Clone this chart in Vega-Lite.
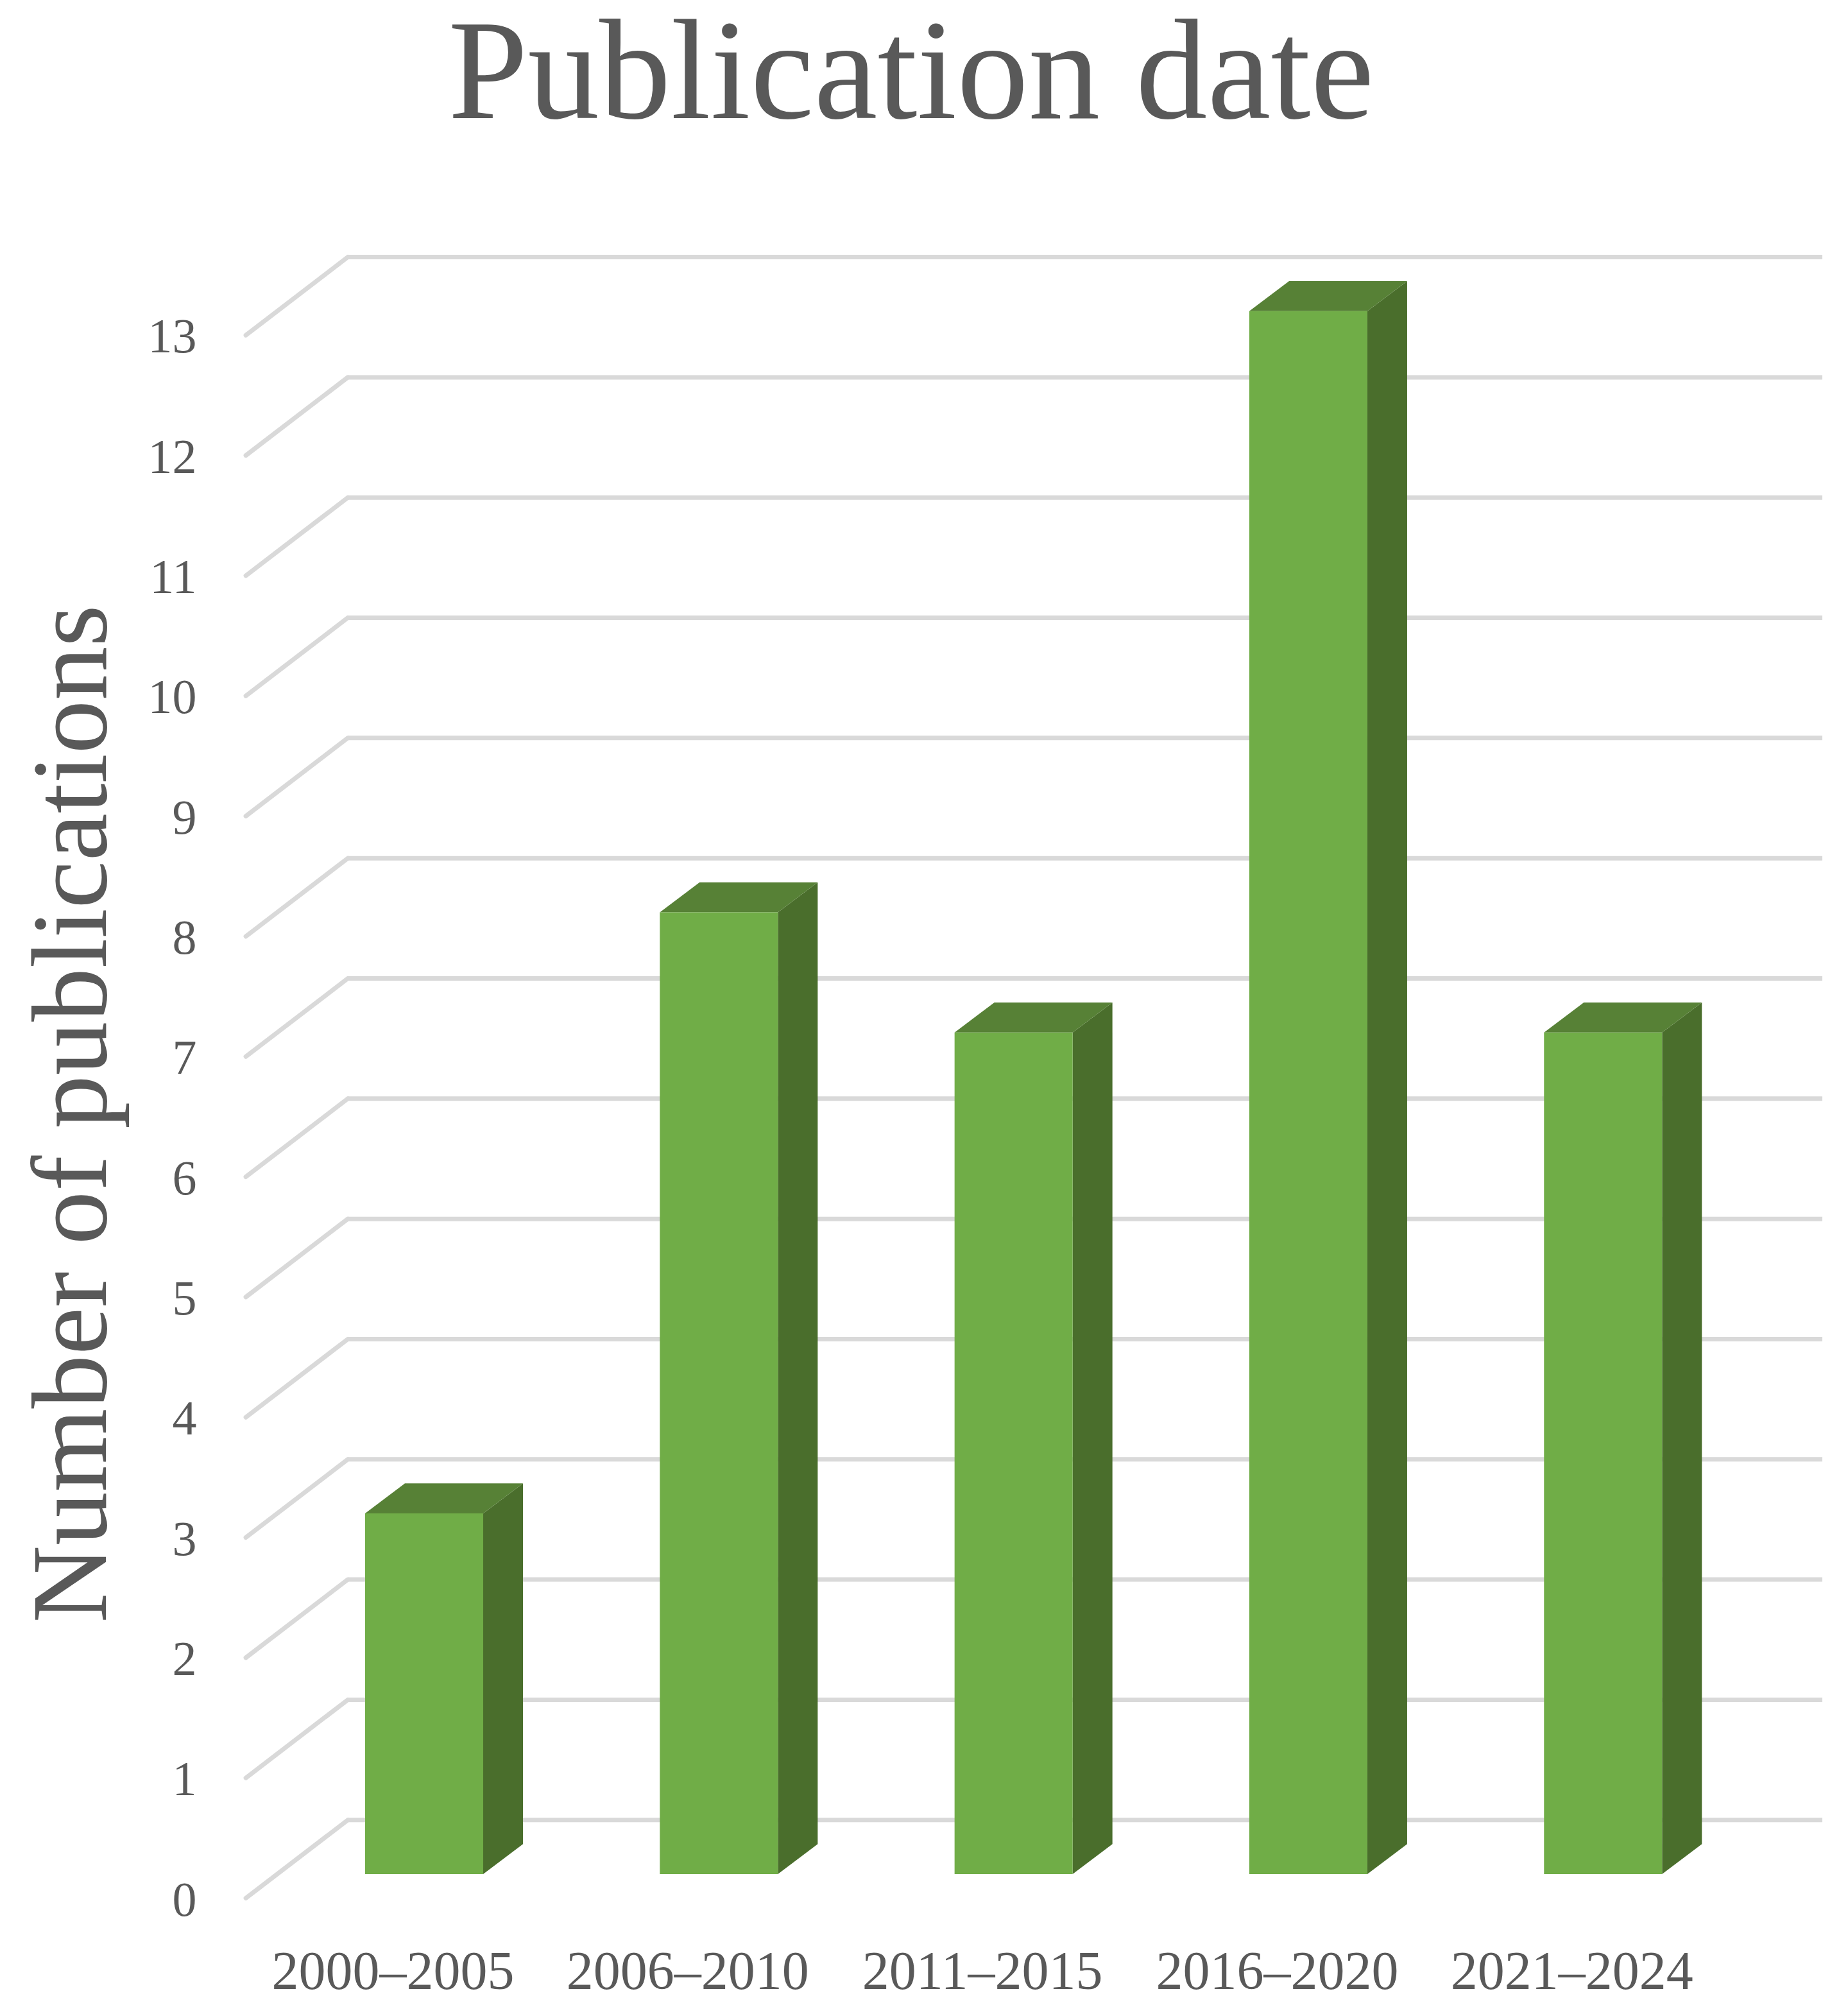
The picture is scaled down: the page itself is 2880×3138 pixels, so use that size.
{"$schema":"https://vega.github.io/schema/vega-lite/v6.json","width":2460,"height":2560,"autosize":"none","padding":{"left":380,"top":400,"right":40,"bottom":178},"background":"white",
"title":{"text":"Publication date","font":"Liberation Serif","fontSize":223,"fontWeight":"normal","color":"#595959","frame":"group","anchor":"middle","dx":-190,"baseline":"alphabetic","offset":-10},
"datasets":{"bars":[{"period":"2000–2005","publications":3},{"period":"2006–2010","publications":8},{"period":"2011–2015","publications":7},{"period":"2016–2020","publications":13},{"period":"2021–2024","publications":7}],
"ticks":[{"k":0},{"k":1},{"k":2},{"k":3},{"k":4},{"k":5},{"k":6},{"k":7},{"k":8},{"k":9},{"k":10},{"k":11},{"k":12},{"k":13}]},
"config":{"view":{"stroke":null}},
"layer":[
{"data":{"name":"ticks"},"transform":[{"calculate":"-0.605","as":"x0"},{"calculate":"-0.259","as":"x1"},{"calculate":"datum.k-0.2","as":"y0"},{"calculate":"datum.k+0.45","as":"y1"}],
"mark":{"type":"rule","stroke":"#D9D9D9","strokeWidth":7,"strokeCap":"round"},
"encoding":{"x":{"field":"x0","type":"quantitative","scale":{"domain":[-0.6118,4.744],"nice":false,"zero":false},"title":null,
"axis":{"values":[0,1,2,3,4],"labelExpr":"['2000–2005','2006–2010','2011–2015','2016–2020','2021–2024'][datum.value]","domain":false,"ticks":false,"grid":false,"labelFont":"Liberation Serif","labelFontSize":84,"labelColor":"#595959","labelOffset":-49,"labelPadding":138,"labelBaseline":"alphabetic","labelFlush":false,"labelOverlap":false,"labelBound":false,"labelLimit":1000}},
"y":{"field":"y0","type":"quantitative","scale":{"domain":[-0.2134,13.453],"nice":false,"zero":false},"title":"Number of publications",
"axis":{"values":[0,1,2,3,4,5,6,7,8,9,10,11,12,13],"format":"d","domain":false,"ticks":false,"grid":false,"labelFont":"Liberation Serif","labelFontSize":76,"labelColor":"#595959","labelOffset":41,"labelPadding":74,"labelOverlap":false,"labelBound":false,"labelFlush":false,
"titleFont":"Liberation Serif","titleFontSize":167,"titleFontWeight":"normal","titleColor":"#595959","titleX":-216,"titleY":1335,"titleAngle":270,"titleAlign":"center","titleBaseline":"alphabetic"}},
"x2":{"field":"x1"},"y2":{"field":"y1"}}},
{"data":{"name":"ticks"},"transform":[{"calculate":"-0.259","as":"x0"},{"calculate":"4.744","as":"x1"},{"calculate":"datum.k+0.45","as":"y0"}],
"mark":{"type":"rule","stroke":"#D9D9D9","strokeWidth":7},
"encoding":{"x":{"field":"x0","type":"quantitative","title":null},"x2":{"field":"x1"},"y":{"field":"y0","type":"quantitative","title":"Number of publications"}}},
{"data":{"name":"bars"},"transform":[{"window":[{"op":"row_number","as":"rank"}]},{"calculate":"[0,1]","as":"d"},{"flatten":["d"]},{"calculate":"datum.rank-1+0.2003+0.135*datum.d","as":"xs"},{"calculate":"0.25*datum.d","as":"ylo"},{"calculate":"datum.publications+0.25*datum.d","as":"yhi"}],
"mark":{"type":"area","fill":"#4A6E2C","orient":"vertical"},
"encoding":{"x":{"field":"xs","type":"quantitative","title":null},"y":{"field":"yhi","type":"quantitative","title":"Number of publications","stack":null},"y2":{"field":"ylo"},"detail":{"field":"period"}}},
{"data":{"name":"bars"},"transform":[{"window":[{"op":"row_number","as":"rank"}]},{"calculate":"[0,1]","as":"d"},{"flatten":["d"]},{"calculate":"datum.rank-1-0.2003+0.135*datum.d","as":"xl"},{"calculate":"datum.rank-1+0.2003+0.135*datum.d","as":"xr"},{"calculate":"datum.publications+0.25*datum.d","as":"yt"}],
"mark":{"type":"area","fill":"#578136","orient":"horizontal"},
"encoding":{"y":{"field":"yt","type":"quantitative","title":"Number of publications"},"x":{"field":"xl","type":"quantitative","title":null,"stack":null},"x2":{"field":"xr"},"detail":{"field":"period"}}},
{"data":{"name":"bars"},"transform":[{"window":[{"op":"row_number","as":"rank"}]},{"calculate":"datum.rank-1-0.2003","as":"xl"},{"calculate":"datum.rank-1+0.2003","as":"xr"}],
"mark":{"type":"rect","fill":"#70AD47"},
"encoding":{"x":{"field":"xl","type":"quantitative","title":null},"x2":{"field":"xr"},"y":{"field":"publications","type":"quantitative","title":"Number of publications"},"y2":{"datum":0}}}
]}
